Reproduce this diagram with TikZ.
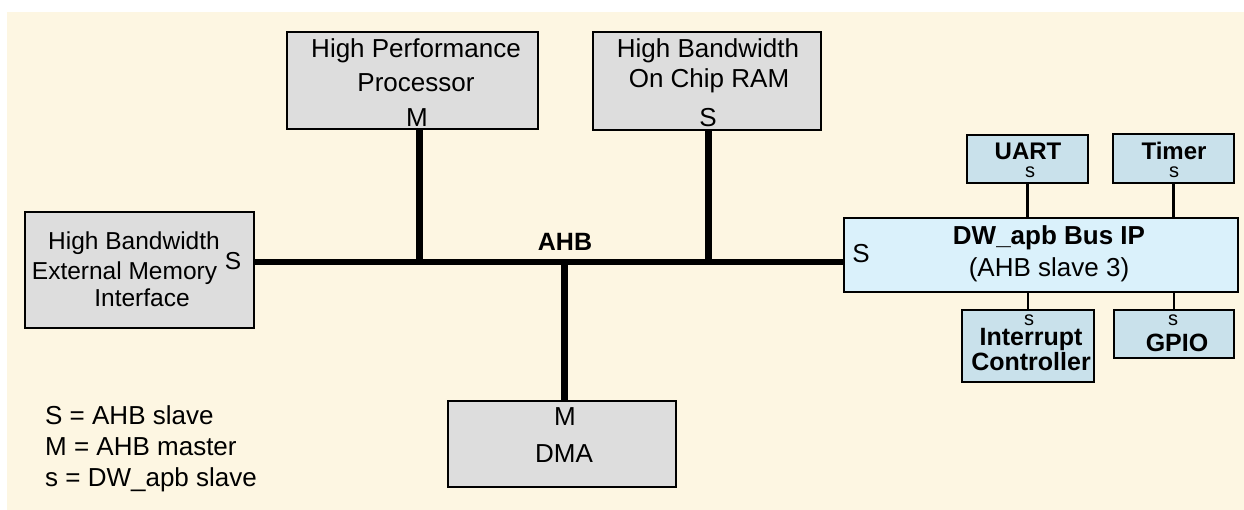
\documentclass[tikz,border=0pt]{standalone}
\usepackage{fontspec}
\setmainfont{Liberation Sans}
\definecolor{cream}{HTML}{FDF6E2}
\definecolor{boxgray}{HTML}{DDDDDD}
\definecolor{dwblue}{HTML}{DAF1FB}
\definecolor{apbblue}{HTML}{C9E1EB}
\begin{document}
\begin{tikzpicture}[x=1pt,y=-1pt,
  box/.style={draw=black, line width=2.2pt, fill=boxgray, inner sep=0pt, outer sep=0pt},
  dwbox/.style={box, fill=dwblue},
  apbbox/.style={box, fill=apbblue},
  txt/.style={inner sep=0pt, anchor=base, font=\fontsize{26}{31}\selectfont},
  txts/.style={inner sep=0pt, anchor=base, font=\fontsize{24.5}{29}\selectfont},
  btxt/.style={inner sep=0pt, anchor=base, font=\fontsize{25}{30}\selectfont\bfseries},
  stxt/.style={inner sep=0pt, anchor=base, font=\fontsize{20}{24}\selectfont},
  legend/.style={inner sep=0pt, anchor=base west, font=\fontsize{26}{31}\selectfont},
  bus/.style={line width=6pt, draw=black},
  stub/.style={line width=7pt, draw=black},
  apb/.style={line width=2.6pt, draw=black}]
\useasboundingbox (0,0) rectangle (1244,510);
\fill[cream] (7,12) rectangle (1244,510);

% boxes
\node[box, minimum width=251pt, minimum height=97pt] (proc) at (412.5,80.5) {};
\node[box, minimum width=228pt, minimum height=98pt] (ram) at (707,81) {};
\node[box, minimum width=229pt, minimum height=116pt] (ext) at (139.5,270) {};
\node[box, minimum width=228pt, minimum height=86pt] (dma) at (562,444) {};
\node[dwbox, minimum width=394pt, minimum height=74pt] (dw) at (1041,255) {};
\node[apbbox, minimum width=121pt, minimum height=48pt] (uart) at (1027.5,159) {};
\node[apbbox, minimum width=121pt, minimum height=49pt] (timer) at (1173.5,158.5) {};
\node[apbbox, minimum width=132pt, minimum height=72pt] (intr) at (1028,346) {};
\node[apbbox, minimum width=120pt, minimum height=48pt] (gpio) at (1174,334) {};

% connectors
\coordinate (busy) at (0,262);
\coordinate (pj) at (419,262);
\coordinate (rj) at (708,262);
\coordinate (dj) at (564,262);
\draw[bus] (ext.east |- busy) -- (dw.west |- busy);
\draw[stub] (proc.south -| pj) -- (pj);
\draw[stub] (ram.south -| rj) -- (rj);
\draw[stub] (dj) -- (dma.north -| dj);
\draw[apb] (uart.south) -- (uart.south |- dw.north);
\draw[apb] (timer.south) -- (timer.south |- dw.north);
\draw[apb] (intr.north |- dw.south) -- (intr.north);
\draw[apb] (gpio.north |- dw.south) -- (gpio.north);

% texts
\node[txt] (t1) at (416,58) {High Performance};
\node[txt] (t2) at (416,92) {Processor};
\node[txt] (t3) at (417,127) {M};
\node[txt] (t4) at (708,58) {High Bandwidth};
\node[txt] (t5) at (709,88) {On Chip RAM};
\node[txt] (t6) at (708,127) {S};
\node[txts] (t7) at (134,250) {High Bandwidth};
\node[txts] (t8) at (124.5,280) {External Memory};
\node[txts] (t9) at (142,307) {Interface};
\node[txts] (t10) at (233,270) {S};
\node[btxt] (ahb) at (565,251) {AHB};
\node[txt] (t11) at (565,425) {M};
\node[txt] (t12) at (564,462) {DMA};
\node[btxt, font=\fontsize{26}{31}\selectfont\bfseries] (t13) at (1049,245) {DW\_apb Bus IP};
\node[txt] (t14) at (1049,277) {(AHB slave 3)};
\node[txt] (t15) at (861,263) {S};
\node[btxt, font=\fontsize{24}{29}\selectfont\bfseries] (t16) at (1028,160) {UART};
\node[stxt] (t17) at (1030,178) {s};
\node[btxt, font=\fontsize{24}{29}\selectfont\bfseries] (t18) at (1174,160) {Timer};
\node[stxt] (t19) at (1174,178) {s};
\node[stxt] (t20) at (1029,326) {s};
\node[btxt] (t21) at (1031,345) {Interrupt};
\node[btxt] (t22) at (1031,370) {Controller};
\node[stxt] (t23) at (1173,326) {s};
\node[btxt] (t24) at (1177,352) {GPIO};
\node[legend] (l1) at (45,424) {S = AHB slave};
\node[legend] (l2) at (45,455) {M = AHB master};
\node[legend] (l3) at (45,486) {s = DW\_apb slave};
\end{tikzpicture}
\end{document}
